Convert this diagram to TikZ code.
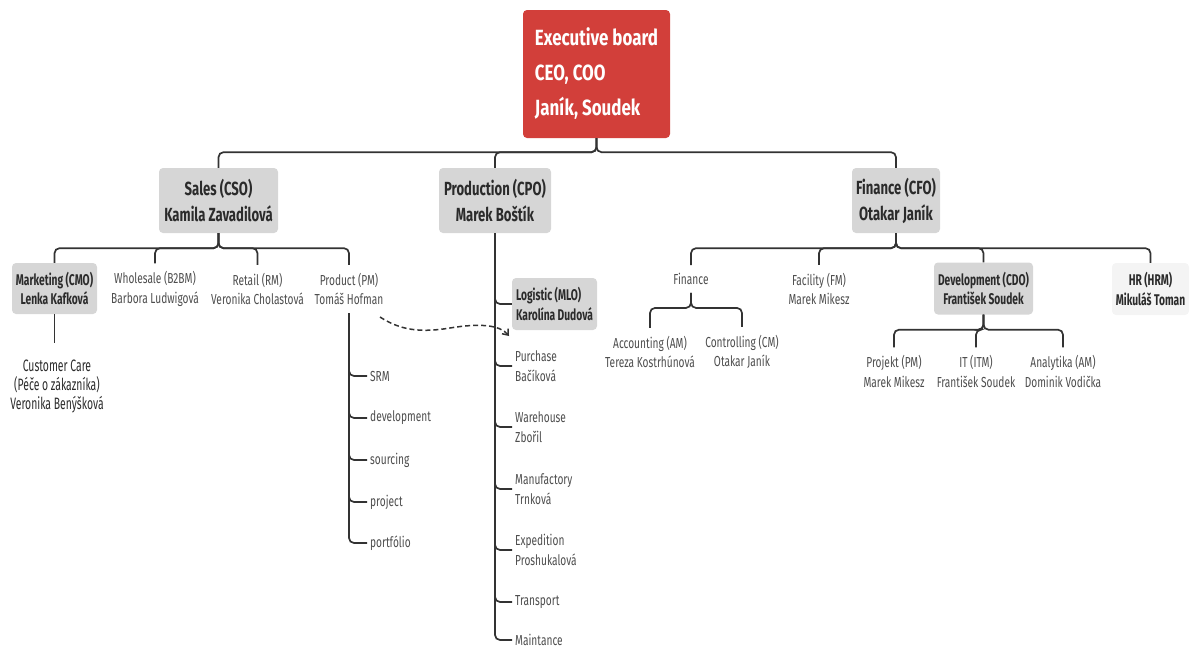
\documentclass[tikz,border=0pt]{standalone}
\usepackage{fontspec}
\setmainfont{Fira Sans}[FakeStretch=0.75]
\newfontfamily\leaffont{Fira Sans}[FakeStretch=0.70]
\newfontfamily\carefont{Fira Sans}[FakeStretch=0.63]
\newfontfamily\boxfont{Fira Sans}[FakeStretch=0.69]
\newfontfamily\subfont{Fira Sans}[FakeStretch=0.66]
\newfontfamily\execfont{Fira Sans}[FakeStretch=0.77]
\usetikzlibrary{arrows.meta}

\definecolor{execred}{HTML}{D23F3A}
\definecolor{boxgray}{HTML}{D6D6D6}
\definecolor{hrgray}{HTML}{F4F4F4}
\definecolor{linecol}{HTML}{333333}
\definecolor{leaftext}{HTML}{4D4D4D}
\definecolor{boldtext}{HTML}{2B2B2B}

\begin{document}
\begin{tikzpicture}[x=1pt,y=-1pt,
  conn/.style={draw=linecol, line width=1.7pt, rounded corners=5pt},
  topbox/.style={fill=boxgray, rounded corners=4pt, text=boldtext,
    font=\boxfont\fontsize{19}{26}\selectfont\bfseries, align=center, inner sep=0pt},
  subbox/.style={fill=boxgray, rounded corners=4pt, text=boldtext,
    font=\subfont\fontsize{15.5}{19.5}\selectfont\bfseries, align=center, inner sep=0pt},
  leaf/.style={text=leaftext, font=\leaffont\fontsize{14.5}{19.5}\selectfont,
    align=center, inner xsep=2pt, inner ysep=8pt},
  sideleaf/.style={text=leaftext, font=\leaffont\fontsize{14.5}{19.5}\selectfont,
    align=left, inner xsep=3pt, inner ysep=2pt, anchor=west},
]
\useasboundingbox (0,0) rectangle (1193,651);

% board
\node[fill=execred, rounded corners=4pt, text=white,
  font=\execfont\fontsize{22}{35}\selectfont\bfseries, align=left,
  minimum width=147pt, minimum height=128pt, inner sep=0pt]
  (exec) at (596.5,74) {Executive board\\CEO, COO\\Janík, Soudek};

% departments
\node[topbox, minimum width=119pt, minimum height=65pt] (sales) at (218.5,200.5) {Sales (CSO)\\Kamila Zavadilová};
\node[topbox, minimum width=112pt, minimum height=65pt] (production) at (495,200.5) {Production (CPO)\\Marek Boštík};
\node[topbox, minimum width=88pt, minimum height=65pt] (finance) at (896,200.5) {Finance (CFO)\\Otakar Janík};

\draw[conn] (exec.south) -- ++(0,14) -| (sales.north);
\draw[conn] (exec.south) -- ++(0,14) -| (production.north);
\draw[conn] (exec.south) -- ++(0,14) -| (finance.north);

% sales
\node[subbox, minimum width=85pt, minimum height=51pt] (marketing) at (54.5,288.5) {Marketing (CMO)\\Lenka Kafková};
\node[leaf] (wholesale) at (155,289) {Wholesale (B2BM)\\Barbora Ludwigová};
\node[leaf] (retail) at (257.5,289) {Retail (RM)\\Veronika Cholastová};
\node[leaf] (product) at (349,289) {Product (PM)\\Tomáš Hofman};

\draw[conn] (sales.south) -- ++(0,15) -| (marketing.north);
\draw[conn] (sales.south) -- ++(0,15) -| (wholesale.north);
\draw[conn] (sales.south) -- ++(0,15) -| (retail.north);
\draw[conn] (sales.south) -- ++(0,15) -| (product.north);

\node[text=boldtext, font=\carefont\fontsize{16.5}{19}\selectfont, align=center, inner sep=2pt]
  (care) at (57,386) {Customer Care\\(Péče o zákazníka)\\Veronika Benýšková};
\draw[conn, shorten >=14pt] (marketing.south) -- (marketing.south |- care.north);

% product items
\node[sideleaf] (srm) at (367,376) {SRM};
\node[sideleaf] (devel) at (367,418) {development};
\node[sideleaf] (sourcing) at (367,460) {sourcing};
\node[sideleaf] (project) at (367,502) {project};
\node[sideleaf] (portfolio) at (367,543) {portfólio};
\foreach \n in {srm,devel,sourcing,project,portfolio}
  \draw[conn] (product.south) |- (\n.west);

% production
\node[subbox, minimum width=85pt, minimum height=52pt, align=left] (logistic) at (554.5,304) {Logistic (MLO)\\Karolína Dudová};
\node[sideleaf] (purchase) at (512,366) {Purchase\\Bačíková};
\node[sideleaf] (warehouse) at (512,427) {Warehouse\\Zbořil};
\node[sideleaf] (manufactory) at (512,489) {Manufactory\\Trnková};
\node[sideleaf] (expedition) at (512,550) {Expedition\\Proshukalová};
\node[sideleaf] (transport) at (512,602) {Transport};
\node[sideleaf] (maintance) at (512,640) {Maintance};
\foreach \n in {logistic,purchase,warehouse,manufactory,expedition,transport,maintance}
  \draw[conn] (production.south) |- (\n.west);

% link from product to logistics
\coordinate (dashstart) at (380,317);
\coordinate (dashend) at (509,336);
\draw[linecol, line width=1.5pt, dash pattern=on 5pt off 3pt, -{Straight Barb[length=5pt,width=8pt]}]
  (dashstart) .. controls (400,330) and (420,333) .. (450,328)
  .. controls (480,323) and (500,325) .. (dashend);

% finance
\node[leaf] (fin) at (691,279) {Finance};
\node[leaf] (facility) at (819,289) {Facility (FM)\\Marek Mikesz};
\node[subbox, minimum width=99pt, minimum height=52pt] (development) at (983.5,288.5) {Development (CDO)\\František Soudek};
\node[subbox, fill=hrgray, minimum width=77pt, minimum height=52pt] (hr) at (1150.5,289) {HR (HRM)\\Mikuláš Toman};

\draw[conn] (finance.south) -- ++(0,15) -| (fin.north);
\draw[conn] (finance.south) -- ++(0,15) -| (facility.north);
\draw[conn] (finance.south) -- ++(0,15) -| (development.north);
\draw[conn] (finance.south) -- ++(0,15) -| (hr.north);

\node[leaf] (accounting) at (650,352) {Accounting (AM)\\Tereza Kostrhúnová};
\node[leaf] (controlling) at (742,352) {Controlling (CM)\\Otakar Janík};
\draw[conn] (fin.south) -- ++(0,15) -| (accounting.north);
\draw[conn] (fin.south) -- ++(0,15) -| (controlling.north);

\node[leaf] (projekt) at (894,371.5) {Projekt (PM)\\Marek Mikesz};
\node[leaf] (itm) at (976,371.5) {IT (ITM)\\František Soudek};
\node[leaf] (analytika) at (1063,371.5) {Analytika (AM)\\Dominik Vodička};
\draw[conn] (development.south) -- ++(0,15) -| (projekt.north);
\draw[conn] (development.south) -- ++(0,15) -| (itm.north);
\draw[conn] (development.south) -- ++(0,15) -| (analytika.north);
\end{tikzpicture}
\end{document}
